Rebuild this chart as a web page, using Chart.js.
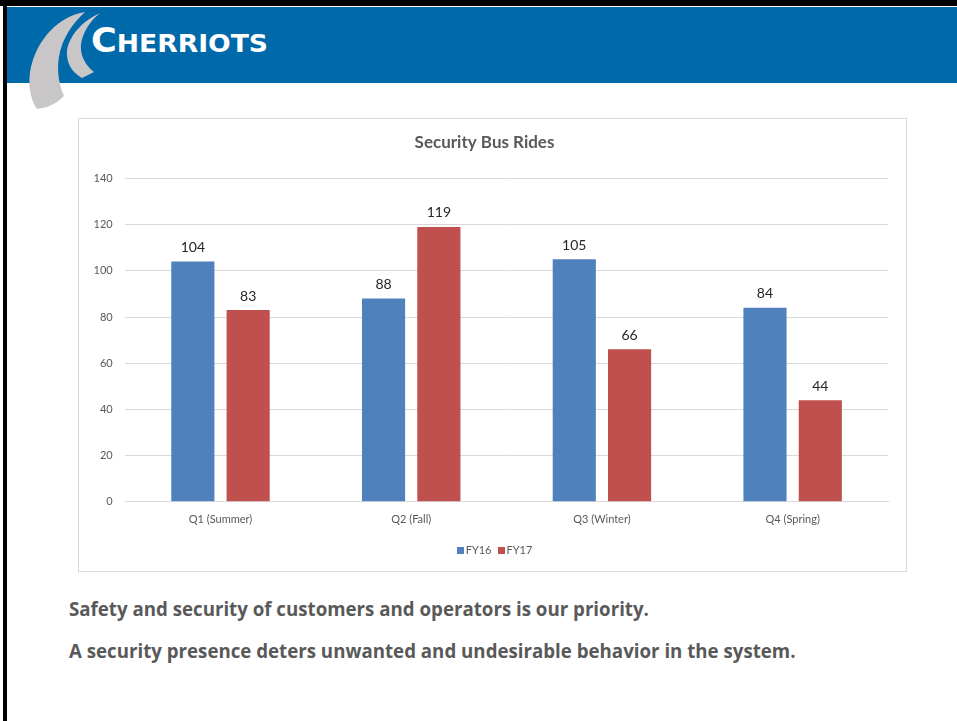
<!DOCTYPE html>
<html>
<head>
<meta charset="utf-8">
<script src="https://cdn.jsdelivr.net/npm/chart.js@4/dist/chart.umd.min.js"></script>
<style>
  html, body { margin: 0; padding: 0; background: #fff; }
  body { width: 957px; height: 721px; position: relative; overflow: hidden; font-family: "Open Sans", sans-serif; }
  .topline { position: absolute; left: 0; top: 0; width: 957px; height: 6px; background: #000; }
  .leftline { position: absolute; left: 3px; top: 0; width: 4px; height: 721px; background: #000; }
  .header { position: absolute; left: 7px; top: 7px; width: 950px; height: 76px; background: #0069AA; }
  .logo { position: absolute; left: 0; top: 0; }
  .chartbox { position: absolute; left: 78px; top: 118px; width: 827px; height: 452px; border: 1px solid #D9D9D9; }
  .chartbox canvas { display: block; }
  .note { position: absolute; left: 69px; color: #595959; font-weight: bold; font-size: 18.7px; margin: 0; white-space: nowrap; }
</style>
</head>
<body>
<div class="topline"></div>
<div class="header"></div>
<svg class="logo" width="300" height="115" viewBox="0 0 300 115">
  <path d="M85 12 C60 16 36 38 30 72 C28 88 31 100 37 109 L47 107 C55 104 60 100 64 96 C57 80 56 62 62 45 C67 32 75 21 85 12 Z" fill="#C8C6C7"/>
  <path d="M100 13 C84 20 70 34 67 50 C66 62 71 72 82 78 L94 72 C84 64 80 54 81 44 C83 32 90 21 100 13 Z" fill="#C8C6C7"/>
  <text x="91" y="52" fill="#fff" font-family="DejaVu Sans, sans-serif" font-weight="bold" textLength="177" lengthAdjust="spacingAndGlyphs"><tspan font-size="33">C</tspan><tspan font-size="25">HERRIOTS</tspan></text>
</svg>
<div class="leftline"></div>

<div class="chartbox"><canvas id="c" width="827" height="452"></canvas></div>

<p class="note" style="top:596px">Safety and security of customers and operators is our priority.</p>
<p class="note" style="top:638px">A security presence deters unwanted and undesirable behavior in the system.</p>

<script>
// Quarterly security bus rides, FY16 vs FY17
const quarters = ["Q1 (Summer)", "Q2 (Fall)", "Q3 (Winter)", "Q4 (Spring)"];
const fy16 = [104, 88, 105, 84];
const fy17 = [83, 119, 66, 44];
const seriesNames = ["FY16", "FY17"];
const seriesColors = ["#4F81BD", "#C0504D"];

const FONT = "Lato, 'Open Sans', sans-serif";

// Draws each bar's value just above it
const valueLabels = {
  id: "valueLabels",
  afterDatasetsDraw(chart) {
    const ctx = chart.ctx;
    ctx.save();
    ctx.font = "14px " + FONT;
    ctx.fillStyle = "#262626";
    ctx.textAlign = "center";
    ctx.textBaseline = "bottom";
    chart.data.datasets.forEach((ds, i) => {
      chart.getDatasetMeta(i).data.forEach((bar, j) => {
        ctx.fillText(String(ds.data[j]), bar.x, bar.y - 7);
      });
    });
    ctx.restore();
  }
};

// Compact legend centred under the category labels
const compactLegend = {
  id: "compactLegend",
  afterDraw(chart) {
    const ctx = chart.ctx;
    ctx.save();
    ctx.font = "11px " + FONT;
    ctx.textBaseline = "middle";
    const box = 7, gapText = 2, gapItem = 6;
    const items = chart.data.datasets.map(ds => ({
      text: ds.label, color: ds.backgroundColor, w: box + gapText + ctx.measureText(ds.label).width
    }));
    const total = items.reduce((s, it) => s + it.w, 0) + gapItem * (items.length - 1);
    let x = chart.width / 2 - total / 2 + 2;
    const y = chart.chartArea.bottom + 49;
    items.forEach(it => {
      ctx.fillStyle = it.color;
      ctx.fillRect(Math.round(x), Math.round(y - box / 2), box, box);
      ctx.fillStyle = "#595959";
      ctx.textAlign = "left";
      ctx.fillText(it.text, x + box + gapText, y);
      x += it.w + gapItem;
    });
    ctx.restore();
  }
};

new Chart(document.getElementById("c"), {
  type: "bar",
  data: {
    labels: quarters,
    datasets: [
      { label: seriesNames[0], data: fy16, backgroundColor: seriesColors[0] },
      { label: seriesNames[1], data: fy17, backgroundColor: seriesColors[1] }
    ]
  },
  options: {
    responsive: false,
    animation: false,
    devicePixelRatio: 1,
    categoryPercentage: 0.58,
    barPercentage: 0.78,
    layout: { padding: { left: 2, right: 18, top: 0, bottom: 42 } },
    plugins: {
      title: {
        display: true,
        text: "Security Bus Rides",
        color: "#595959",
        font: { family: FONT, size: 17, weight: "bold" },
        padding: { top: 13, bottom: 26 }
      },
      legend: { display: false },
      tooltip: { enabled: false }
    },
    scales: {
      x: {
        grid: { display: false },
        border: { display: true, color: "#D9D9D9" },
        ticks: { color: "#595959", font: { family: FONT, size: 11 }, padding: 3 }
      },
      y: {
        min: 0,
        max: 140,
        ticks: { stepSize: 20, color: "#595959", font: { family: FONT, size: 11 }, padding: 12.5 },
        grid: { color: "#D9D9D9", drawTicks: false },
        border: { display: false }
      }
    }
  },
  plugins: [valueLabels, compactLegend]
});
</script>
</body>
</html>
